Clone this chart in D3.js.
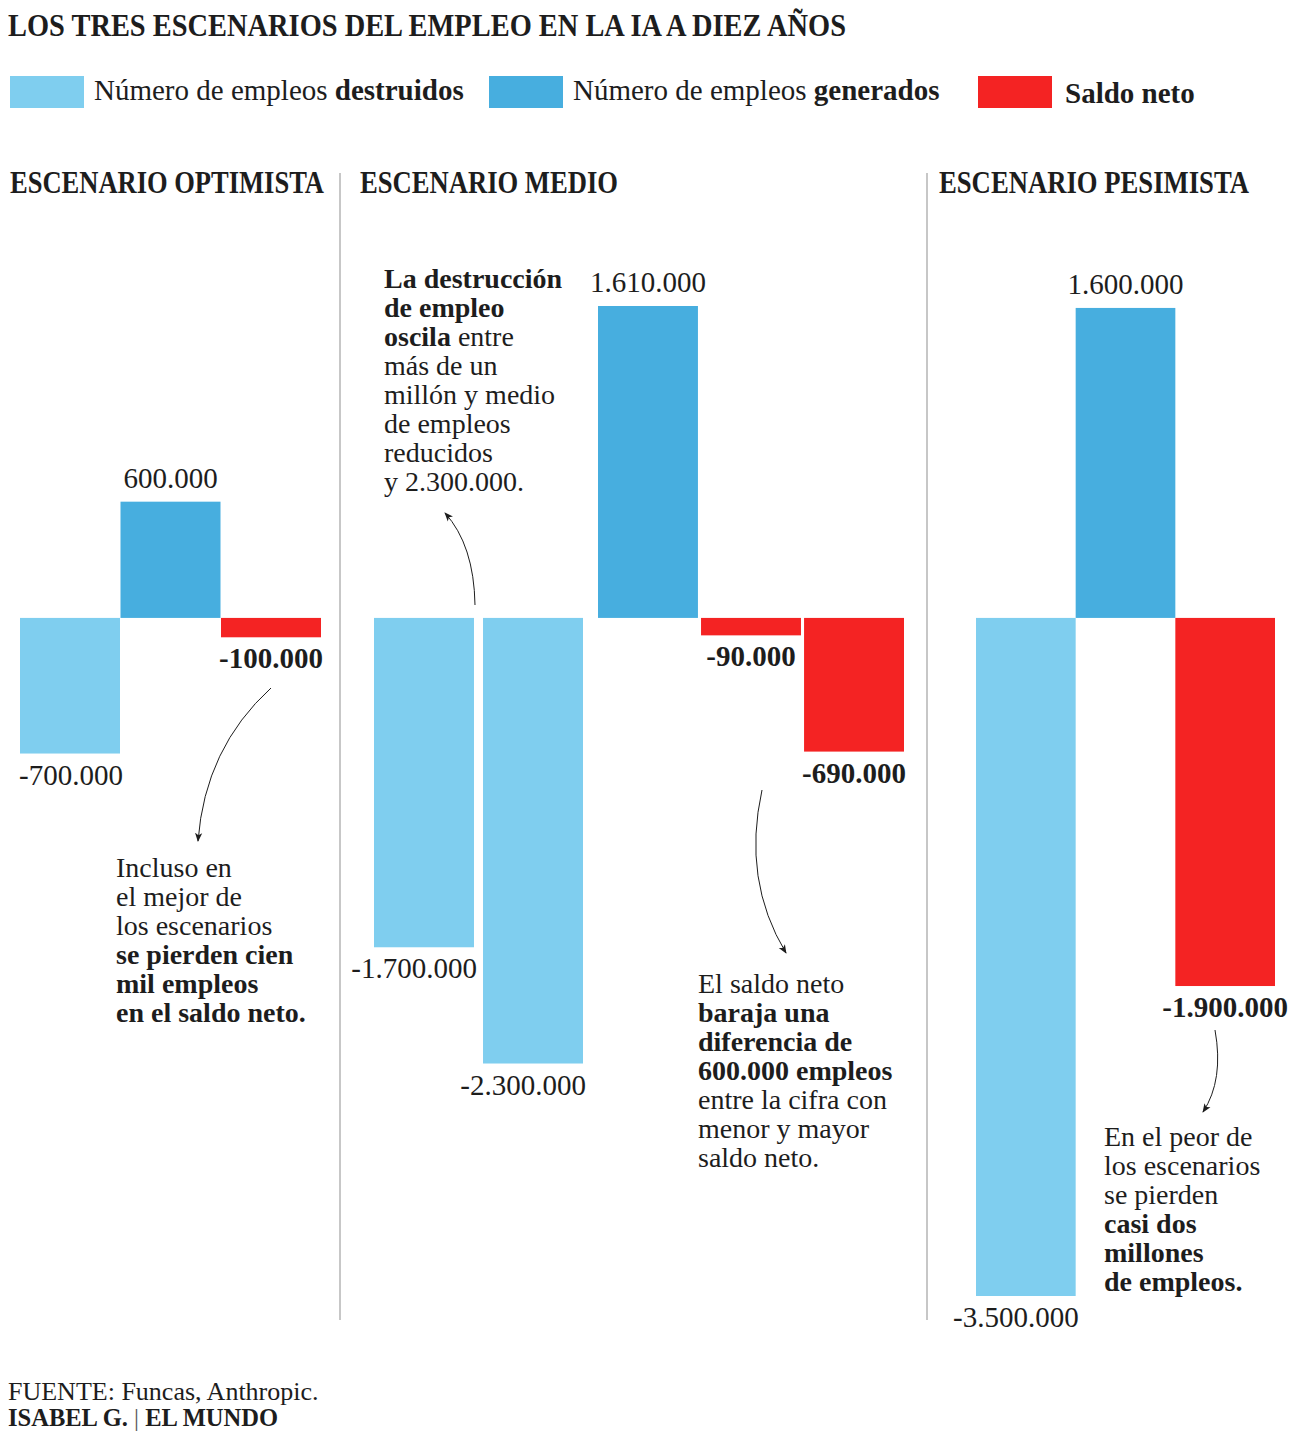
<!DOCTYPE html>
<html>
<head>
<meta charset="utf-8">
<script src="https://cdn.jsdelivr.net/npm/d3@7"></script>
<style>
  body { margin: 0; background: #fff; }
  svg { display: block; font-family: "Liberation Serif", "DejaVu Serif", serif; }
</style>
</head>
<body>
<script>
// data
var scenarios = ["ESCENARIO OPTIMISTA", "ESCENARIO MEDIO", "ESCENARIO PESIMISTA"]
var tipos = ["destruidos", "generados", "neto"]
var optimistaValues = [-700000, 600000, -100000]
var optimistaTipos = ["destruidos", "generados", "neto"]
var medioValues = [-1700000, -2300000, 1610000, -90000, -690000]
var medioTipos = ["destruidos", "destruidos", "generados", "neto", "neto"]
var pesimistaValues = [-3500000, 1600000, -1900000]
var pesimistaTipos = ["destruidos", "generados", "neto"]

var width = 1292, height = 1434
var color = d3.scaleOrdinal().domain(tipos).range(["#7fceef", "#47aedf", "#f42323"])
var ink = "#1d1d1d"

var fmt = d3.formatLocale({decimal: ",", thousands: ".", grouping: [3], currency: ["", "€"], minus: "-"}).format(",d")

var svg = d3.select("body").append("svg")
    .attr("width", width)
    .attr("height", height)

svg.append("defs").append("marker")
    .attr("id", "arrow")
    .attr("viewBox", "0 0 10 10")
    .attr("refX", 9).attr("refY", 5)
    .attr("markerWidth", 9).attr("markerHeight", 9)
    .attr("markerUnits", "userSpaceOnUse")
    .attr("orient", "auto")
    .append("path")
    .attr("d", "M0,1 L10,5 L0,9 L2.5,5 Z")
    .attr("fill", ink)

// title
svg.append("text")
    .attr("x", 8).attr("y", 36)
    .attr("font-size", 32).attr("font-weight", "bold").attr("fill", ink)
    .attr("textLength", 838).attr("lengthAdjust", "spacingAndGlyphs")
    .text("LOS TRES ESCENARIOS DEL EMPLEO EN LA IA A DIEZ AÑOS")

// legend
var legendItems = [
    {tipo: "destruidos", x: 10, parts: [["Número de empleos ", false], ["destruidos", true]]},
    {tipo: "generados", x: 489, parts: [["Número de empleos ", false], ["generados", true]]},
    {tipo: "neto", x: 978, parts: [["Saldo neto", true]]}
]
var lg = svg.selectAll("g.legend").data(legendItems).enter().append("g")
    .attr("class", "legend")
    .attr("transform", function (d) { return "translate(" + d.x + ",76)" })
lg.append("rect")
    .attr("width", 74).attr("height", 32)
    .attr("fill", function (d) { return color(d.tipo) })
lg.append("text")
    .attr("x", function (d) { return d.tipo == "neto" ? 87 : 84 })
    .attr("y", function (d) { return d.tipo == "neto" ? 27 : 24 })
    .attr("font-size", 29).attr("fill", ink)
    .selectAll("tspan").data(function (d) { return d.parts }).enter().append("tspan")
    .attr("font-weight", function (d) { return d[1] ? "bold" : null })
    .text(function (d) { return d[0] })

// scenario headers + dividers
var headers = [{x: 10, w: 314}, {x: 360, w: 258}, {x: 939, w: 310}]
svg.selectAll("text.header").data(scenarios).enter().append("text")
    .attr("class", "header")
    .attr("x", function (d, i) { return headers[i].x })
    .attr("y", 193)
    .attr("font-size", 31).attr("font-weight", "bold").attr("fill", ink)
    .attr("textLength", function (d, i) { return headers[i].w })
    .attr("lengthAdjust", "spacingAndGlyphs")
    .text(function (d) { return d })

svg.selectAll("line.divider").data([340, 927]).enter().append("line")
    .attr("class", "divider")
    .attr("x1", function (d) { return d }).attr("x2", function (d) { return d })
    .attr("y1", 173).attr("y2", 1320)
    .attr("stroke", "#b5b5b5").attr("stroke-width", 1.5)

// bars
var y = d3.scaleLinear().domain([-3500000, 1610000]).range([1296, 306])

// each group of adjacent bars gets its own band scale
var groups = [
    {values: optimistaValues, tipos: optimistaTipos, range: [20, 321], pad: 0.005},
    {values: medioValues.slice(0, 2), tipos: medioTipos.slice(0, 2), range: [374, 583], pad: 0.083},
    {values: medioValues.slice(2), tipos: medioTipos.slice(2), range: [598, 904], pad: 0.03},
    {values: pesimistaValues, tipos: pesimistaTipos, range: [976, 1275], pad: 0}
]

groups.forEach(function (p) {
    var x = d3.scaleBand()
        .domain(d3.range(p.values.length))
        .range(p.range)
        .paddingInner(p.pad)
    var rows = p.values.map(function (v, i) { return {v: v, tipo: p.tipos[i], i: i} })
    var g = svg.append("g")

    g.selectAll("rect").data(rows).enter().append("rect")
        .attr("x", function (d) { return x(d.i) })
        .attr("width", x.bandwidth())
        .attr("y", function (d) { return y(Math.max(0, d.v)) })
        .attr("height", function (d) { return Math.abs(y(d.v) - y(0)) })
        .attr("fill", function (d) { return color(d.tipo) })

    g.selectAll("text").data(rows).enter().append("text")
        .attr("x", function (d) {
            return d.tipo == "destruidos" ? x(d.i) + x.bandwidth() + 3 : x(d.i) + x.bandwidth() / 2
        })
        .attr("y", function (d) { return d.v > 0 ? y(d.v) - 14 : y(d.v) + 31 })
        .attr("text-anchor", function (d) { return d.tipo == "destruidos" ? "end" : "middle" })
        .attr("font-size", 29)
        .attr("font-weight", function (d) { return d.tipo == "neto" ? "bold" : null })
        .attr("fill", ink)
        .text(function (d) { return fmt(d.v) })
})

// annotations
var notes = [
    {x: 116, y: 877, lines: [
        [["Incluso en", false]],
        [["el mejor de", false]],
        [["los escenarios", false]],
        [["se pierden cien", true]],
        [["mil empleos", true]],
        [["en el saldo neto.", true]]]},
    {x: 384, y: 288, lines: [
        [["La destrucción", true]],
        [["de empleo", true]],
        [["oscila", true], [" entre", false]],
        [["más de un", false]],
        [["millón y medio", false]],
        [["de empleos", false]],
        [["reducidos", false]],
        [["y 2.300.000.", false]]]},
    {x: 698, y: 993, lines: [
        [["El saldo neto", false]],
        [["baraja una", true]],
        [["diferencia de", true]],
        [["600.000 empleos", true]],
        [["entre la cifra con", false]],
        [["menor y mayor", false]],
        [["saldo neto.", false]]]},
    {x: 1104, y: 1146, lines: [
        [["En el peor de", false]],
        [["los escenarios", false]],
        [["se pierden", false]],
        [["casi dos", true]],
        [["millones", true]],
        [["de empleos.", true]]]}
]

notes.forEach(function (n) {
    var t = svg.append("text")
        .attr("font-size", 28).attr("fill", ink)
    n.lines.forEach(function (line, li) {
        line.forEach(function (seg, si) {
            var s = t.append("tspan")
                .attr("font-weight", seg[1] ? "bold" : null)
                .text(seg[0])
            if (si == 0) s.attr("x", n.x).attr("y", n.y + li * 29)
        })
    })
})

var arrows = [
    "M271,688 Q205,748 198,841",
    "M475,605 Q474,545 445,513",
    "M762,790 Q742,880 786,953",
    "M1215,1030 Q1224,1080 1203,1112"
]
svg.selectAll("path.arrow").data(arrows).enter().append("path")
    .attr("class", "arrow")
    .attr("d", function (d) { return d })
    .attr("fill", "none").attr("stroke", ink).attr("stroke-width", 1)
    .attr("marker-end", "url(#arrow)")

// footer
svg.append("text")
    .attr("x", 8).attr("y", 1400)
    .attr("font-size", 26).attr("fill", ink)
    .text("FUENTE: Funcas, Anthropic.")
var by = svg.append("text")
    .attr("x", 8).attr("y", 1426)
    .attr("font-size", 26).attr("fill", ink)
    .attr("textLength", 270).attr("lengthAdjust", "spacingAndGlyphs")
by.append("tspan").attr("font-weight", "bold").text("ISABEL G. ")
by.append("tspan").attr("fill", "#555").text("| ")
by.append("tspan").attr("font-weight", "bold").text("EL MUNDO")
</script>
</body>
</html>
